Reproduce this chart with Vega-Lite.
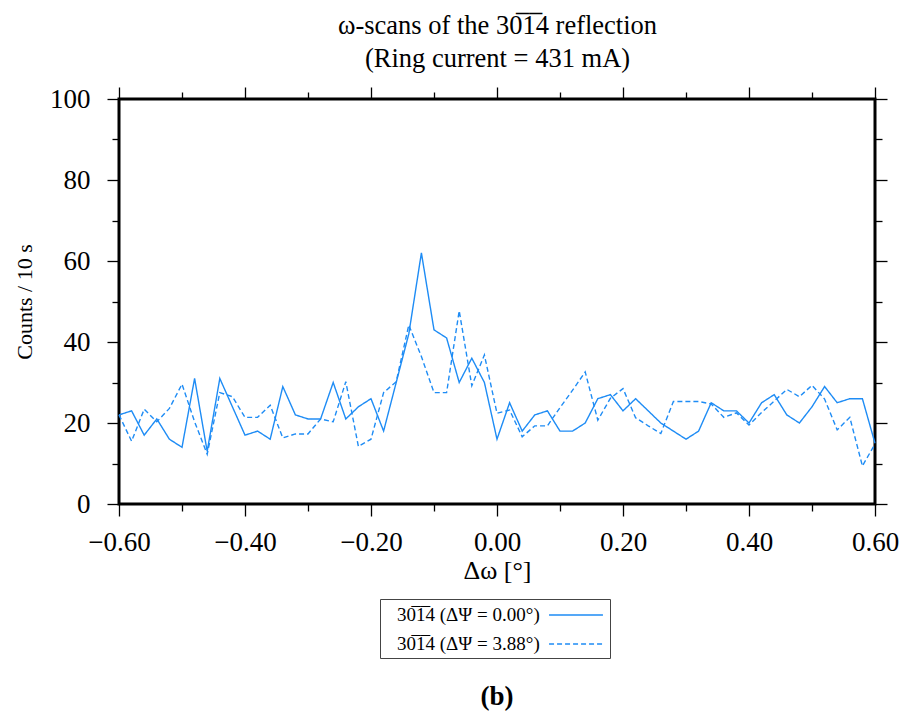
{
  "$schema": "https://vega.github.io/schema/vega-lite/v6.json",
  "width": 756,
  "height": 405,
  "autosize": {"type": "none"},
  "padding": {"left": 119, "top": 99, "right": 29, "bottom": 212},
  "background": "white",
  "config": {
    "view": {"stroke": "black", "strokeWidth": 3},
    "font": "Liberation Serif",
    "axis": {
      "domain": false, "grid": false, "tickColor": "black", "tickWidth": 1.3,
      "labelFont": "Liberation Serif", "labelFontSize": 27, "labelColor": "black",
      "titleFont": "Liberation Serif", "titleFontSize": 26, "titleFontWeight": "normal", "titleColor": "black"
    }
  },
  "title": {"text": "(b)", "orient": "bottom", "fontSize": 27, "fontWeight": "bold", "font": "Liberation Serif", "color": "black", "offset": 25},
  "data": {"values": [
    {"x": -0.60, "s": "0.00", "c": 22}, {"x": -0.58, "s": "0.00", "c": 23}, {"x": -0.56, "s": "0.00", "c": 17}, {"x": -0.54, "s": "0.00", "c": 21},
    {"x": -0.52, "s": "0.00", "c": 16}, {"x": -0.50, "s": "0.00", "c": 14}, {"x": -0.48, "s": "0.00", "c": 31}, {"x": -0.46, "s": "0.00", "c": 13},
    {"x": -0.44, "s": "0.00", "c": 31}, {"x": -0.42, "s": "0.00", "c": 24}, {"x": -0.40, "s": "0.00", "c": 17}, {"x": -0.38, "s": "0.00", "c": 18},
    {"x": -0.36, "s": "0.00", "c": 16}, {"x": -0.34, "s": "0.00", "c": 29}, {"x": -0.32, "s": "0.00", "c": 22}, {"x": -0.30, "s": "0.00", "c": 21},
    {"x": -0.28, "s": "0.00", "c": 21}, {"x": -0.26, "s": "0.00", "c": 30}, {"x": -0.24, "s": "0.00", "c": 21}, {"x": -0.22, "s": "0.00", "c": 24},
    {"x": -0.20, "s": "0.00", "c": 26}, {"x": -0.18, "s": "0.00", "c": 18}, {"x": -0.16, "s": "0.00", "c": 30}, {"x": -0.14, "s": "0.00", "c": 42},
    {"x": -0.12, "s": "0.00", "c": 62}, {"x": -0.10, "s": "0.00", "c": 43}, {"x": -0.08, "s": "0.00", "c": 41}, {"x": -0.06, "s": "0.00", "c": 30},
    {"x": -0.04, "s": "0.00", "c": 36}, {"x": -0.02, "s": "0.00", "c": 30}, {"x": 0.00, "s": "0.00", "c": 16}, {"x": 0.02, "s": "0.00", "c": 25},
    {"x": 0.04, "s": "0.00", "c": 18}, {"x": 0.06, "s": "0.00", "c": 22}, {"x": 0.08, "s": "0.00", "c": 23}, {"x": 0.10, "s": "0.00", "c": 18},
    {"x": 0.12, "s": "0.00", "c": 18}, {"x": 0.14, "s": "0.00", "c": 20}, {"x": 0.16, "s": "0.00", "c": 26}, {"x": 0.18, "s": "0.00", "c": 27},
    {"x": 0.20, "s": "0.00", "c": 23}, {"x": 0.22, "s": "0.00", "c": 26}, {"x": 0.24, "s": "0.00", "c": 23}, {"x": 0.26, "s": "0.00", "c": 20},
    {"x": 0.28, "s": "0.00", "c": 18}, {"x": 0.30, "s": "0.00", "c": 16}, {"x": 0.32, "s": "0.00", "c": 18}, {"x": 0.34, "s": "0.00", "c": 25},
    {"x": 0.36, "s": "0.00", "c": 23}, {"x": 0.38, "s": "0.00", "c": 23}, {"x": 0.40, "s": "0.00", "c": 20}, {"x": 0.42, "s": "0.00", "c": 25},
    {"x": 0.44, "s": "0.00", "c": 27}, {"x": 0.46, "s": "0.00", "c": 22}, {"x": 0.48, "s": "0.00", "c": 20}, {"x": 0.50, "s": "0.00", "c": 24},
    {"x": 0.52, "s": "0.00", "c": 29}, {"x": 0.54, "s": "0.00", "c": 25}, {"x": 0.56, "s": "0.00", "c": 26}, {"x": 0.58, "s": "0.00", "c": 26},
    {"x": 0.60, "s": "0.00", "c": 15},
    {"x": -0.60, "s": "3.88", "c": 22}, {"x": -0.58, "s": "3.88", "c": 15.5}, {"x": -0.56, "s": "3.88", "c": 23.4}, {"x": -0.54, "s": "3.88", "c": 20.3},
    {"x": -0.52, "s": "3.88", "c": 23.6}, {"x": -0.50, "s": "3.88", "c": 29.6}, {"x": -0.48, "s": "3.88", "c": 20.3}, {"x": -0.46, "s": "3.88", "c": 12.3},
    {"x": -0.44, "s": "3.88", "c": 27.5}, {"x": -0.42, "s": "3.88", "c": 26.5}, {"x": -0.40, "s": "3.88", "c": 21.4}, {"x": -0.38, "s": "3.88", "c": 21.4},
    {"x": -0.36, "s": "3.88", "c": 24.4}, {"x": -0.34, "s": "3.88", "c": 16.3}, {"x": -0.32, "s": "3.88", "c": 17.3}, {"x": -0.30, "s": "3.88", "c": 17.3},
    {"x": -0.28, "s": "3.88", "c": 21}, {"x": -0.26, "s": "3.88", "c": 20.3}, {"x": -0.24, "s": "3.88", "c": 30.2}, {"x": -0.22, "s": "3.88", "c": 14.2},
    {"x": -0.20, "s": "3.88", "c": 16}, {"x": -0.18, "s": "3.88", "c": 27.5}, {"x": -0.16, "s": "3.88", "c": 30.2}, {"x": -0.14, "s": "3.88", "c": 44.2},
    {"x": -0.12, "s": "3.88", "c": 36.4}, {"x": -0.10, "s": "3.88", "c": 27.5}, {"x": -0.08, "s": "3.88", "c": 27.5}, {"x": -0.06, "s": "3.88", "c": 47.7},
    {"x": -0.04, "s": "3.88", "c": 29.2}, {"x": -0.02, "s": "3.88", "c": 36.8}, {"x": 0.00, "s": "3.88", "c": 22.4}, {"x": 0.02, "s": "3.88", "c": 23.2},
    {"x": 0.04, "s": "3.88", "c": 16.6}, {"x": 0.06, "s": "3.88", "c": 19.3}, {"x": 0.08, "s": "3.88", "c": 19.3}, {"x": 0.10, "s": "3.88", "c": 23.8},
    {"x": 0.12, "s": "3.88", "c": 28.1}, {"x": 0.14, "s": "3.88", "c": 32.6}, {"x": 0.16, "s": "3.88", "c": 20.7}, {"x": 0.18, "s": "3.88", "c": 26.1},
    {"x": 0.20, "s": "3.88", "c": 28.5}, {"x": 0.22, "s": "3.88", "c": 21.3}, {"x": 0.24, "s": "3.88", "c": 19.3}, {"x": 0.26, "s": "3.88", "c": 17.4},
    {"x": 0.28, "s": "3.88", "c": 25.3}, {"x": 0.30, "s": "3.88", "c": 25.3}, {"x": 0.32, "s": "3.88", "c": 25.3}, {"x": 0.34, "s": "3.88", "c": 24.7},
    {"x": 0.36, "s": "3.88", "c": 21.4}, {"x": 0.38, "s": "3.88", "c": 22.5}, {"x": 0.40, "s": "3.88", "c": 19.5}, {"x": 0.42, "s": "3.88", "c": 22.6},
    {"x": 0.44, "s": "3.88", "c": 25.4}, {"x": 0.46, "s": "3.88", "c": 28.3}, {"x": 0.48, "s": "3.88", "c": 26.5}, {"x": 0.50, "s": "3.88", "c": 29.3},
    {"x": 0.52, "s": "3.88", "c": 25.9}, {"x": 0.54, "s": "3.88", "c": 18.3}, {"x": 0.56, "s": "3.88", "c": 21.4}, {"x": 0.58, "s": "3.88", "c": 9.4},
    {"x": 0.60, "s": "3.88", "c": 14.8}
  ]},
  "layer": [
    {
      "mark": {"type": "line", "color": "#1e8cf5", "strokeWidth": 1.4},
      "encoding": {
        "x": {
          "field": "x", "type": "quantitative",
          "scale": {"domain": [-0.6, 0.6], "nice": false, "zero": false},
          "axis": {
            "orient": "bottom",
            "values": [-0.6, -0.5, -0.4, -0.3, -0.2, -0.1, 0, 0.1, 0.2, 0.3, 0.4, 0.5, 0.6],
            "format": ".2f",
            "labelExpr": "abs(round(datum.value*10)) % 2 == 0 ? datum.label : ''",
            "labelOverlap": false, "labelFlush": false,
            "tickSize": {"condition": {"test": "abs(round(datum.value*10)) % 2 == 0", "value": 12}, "value": 7},
            "labelPadding": 13,
            "title": "Δω [°]", "titlePadding": 2
          }
        },
        "y": {
          "field": "c", "type": "quantitative",
          "scale": {"domain": [0, 100], "nice": false},
          "axis": {
            "orient": "left",
            "values": [0, 10, 20, 30, 40, 50, 60, 70, 80, 90, 100],
            "labelExpr": "round(datum.value) % 20 == 0 ? datum.label : ''",
            "labelOverlap": false, "labelFlush": false,
            "tickSize": {"condition": {"test": "round(datum.value) % 20 == 0", "value": 12}, "value": 7},
            "labelPadding": 17,
            "title": "Counts / 10 s", "titleFontSize": 22, "titlePadding": 13
          }
        },
        "strokeDash": {
          "field": "s", "type": "nominal",
          "scale": {"domain": ["0.00", "3.88"], "range": [[1, 0], [5, 3]]},
          "legend": {
            "orient": "none", "legendX": 261, "legendY": 500,
            "direction": "vertical", "title": null,
            "labelExpr": "'30\u03051\u03054 (ΔΨ = ' + datum.label + '°)'",
            "labelFont": "Liberation Serif", "labelFontSize": 19, "labelColor": "black",
            "labelOffset": -191, "labelLimit": 300,
            "symbolType": "M-2.45,0L2.45,0", "symbolSize": 484, "symbolOffset": 180,
            "symbolStrokeWidth": 1.4, "symbolStrokeColor": "#1e8cf5", "symbolFillColor": "transparent",
            "strokeColor": "#444", "padding": 4, "rowPadding": 7
          }
        }
      }
    },
    {
      "mark": {"type": "line", "strokeOpacity": 0},
      "encoding": {
        "x": {
          "field": "x", "type": "quantitative",
          "scale": {"domain": [-0.6, 0.6], "nice": false, "zero": false},
          "axis": {
            "orient": "top",
            "values": [-0.6, -0.5, -0.4, -0.3, -0.2, -0.1, 0, 0.1, 0.2, 0.3, 0.4, 0.5, 0.6],
            "labels": false,
            "tickSize": {"condition": {"test": "abs(round(datum.value*10)) % 2 == 0", "value": 12}, "value": 7},
            "title": ["ω-scans of the 30\u03051\u03054 reflection", "(Ring current = 431 mA)"],
            "titleFontSize": 26.5, "titleLineHeight": 33, "titlePadding": 14
          }
        },
        "y": {
          "field": "c", "type": "quantitative",
          "scale": {"domain": [0, 100], "nice": false},
          "axis": {
            "orient": "right",
            "values": [0, 10, 20, 30, 40, 50, 60, 70, 80, 90, 100],
            "labels": false,
            "tickSize": {"condition": {"test": "round(datum.value) % 20 == 0", "value": 12}, "value": 7},
            "title": null
          }
        }
      }
    }
  ],
  "resolve": {"axis": {"x": "independent", "y": "independent"}}
}
